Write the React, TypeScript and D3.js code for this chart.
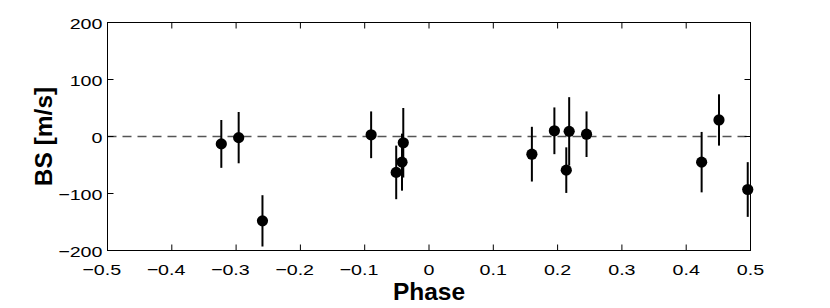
import * as d3 from 'd3';
import React from 'react';

// phase, BS [m/s], error
const phases = [-0.323, -0.296, -0.259, -0.090, -0.051, -0.042, -0.040, 0.160, 0.195, 0.2135, 0.218, 0.245, 0.424, 0.451, 0.4957];
const bsValues = [-13, -2, -148, 3, -63, -45, -11, -31, 10, -59, 9, 4, -45, 29, -93];
const bsErrors = [42, 45, 45, 41, 47, 50, 61, 48, 41, 40, 60, 40, 53, 45, 48];

const xTicks = [-0.5, -0.4, -0.3, -0.2, -0.1, 0, 0.1, 0.2, 0.3, 0.4, 0.5];
const yTicks = [-200, -100, 0, 100, 200];

const width = 830;
const height = 308;
const margin = { left: 107.5, right: 79.5, top: 22.5, bottom: 57.5 };

const tickSize = 15.5;
const stretch = 1.27; // tick labels in the original are drawn wide

// rough advance width of digits / dot, in em (Liberation Sans)
const textWidth = (s: string) => s.split('').reduce((w, c) => w + (c === '.' ? 0.278 : 0.556), 0) * tickSize;

export default function App() {
  const x = d3.scaleLinear().domain([-0.5, 0.5]).range([margin.left, width - margin.right]);
  const y = d3.scaleLinear().domain([-200, 200]).range([height - margin.bottom, margin.top]);

  const x0 = x.range()[0], x1 = x.range()[1];
  const y0 = y.range()[1], y1 = y.range()[0];
  const tickLen = 6;
  const font = "'Liberation Sans', Arial, Helvetica, sans-serif";

  return (
    <svg width={width} height={height} style={{ position: 'absolute', left: 0, top: 0 }}>
      <rect width={width} height={height} fill="#fff" />

      {/* zero line */}
      <line x1={x0} x2={x1} y1={y(0)} y2={y(0)} stroke="#555" strokeWidth={1.5} strokeDasharray="9,6" />

      {/* error bars and points */}
      {phases.map((p, i) => (
        <g key={i}>
          <line x1={x(p)} x2={x(p)} y1={y(bsValues[i] + bsErrors[i])} y2={y(bsValues[i] - bsErrors[i])}
            stroke="#000" strokeWidth={2} />
          <circle cx={x(p)} cy={y(bsValues[i])} r={5.6} fill="#000" />
        </g>
      ))}

      {/* axes box */}
      <rect x={x0} y={y0} width={x1 - x0} height={y1 - y0} fill="none" stroke="#000" strokeWidth={1} />

      {xTicks.map((t) => {
        const abs = String(Math.abs(t));
        return (
          <g key={'x' + t}>
            <line x1={x(t)} x2={x(t)} y1={y1} y2={y1 - tickLen} stroke="#000" />
            <line x1={x(t)} x2={x(t)} y1={y0} y2={y0 + tickLen} stroke="#000" />
            <g transform={`translate(${x(t)},${y1 + 24.5}) scale(${stretch},1)`} fontFamily={font} fontSize={tickSize}>
              <text textAnchor="middle">{abs}</text>
              {t < 0 && <text x={-textWidth(abs) / 2} textAnchor="end">{'\u2212'}</text>}
            </g>
          </g>
        );
      })}

      {yTicks.map((t) => (
        <g key={'y' + t}>
          <line x1={x0} x2={x0 + tickLen} y1={y(t)} y2={y(t)} stroke="#000" />
          <line x1={x1} x2={x1 - tickLen} y1={y(t)} y2={y(t)} stroke="#000" />
          <g transform={`translate(${x0 - 5},${y(t) + 6.5}) scale(${stretch},1)`}>
            <text textAnchor="end" fontFamily={font} fontSize={tickSize}>
              {t < 0 ? '\u2212' + String(Math.abs(t)) : String(t)}
            </text>
          </g>
        </g>
      ))}

      <text x={(x0 + x1) / 2} y={300} textAnchor="middle" fontFamily={font} fontSize={24.5} fontWeight="bold">Phase</text>
      <text transform={`translate(51.5,${(y0 + y1) / 2}) rotate(-90)`} textAnchor="middle" fontFamily={font}
        fontSize={24.5} fontWeight="bold">BS [m/s]</text>
    </svg>
  );
}
